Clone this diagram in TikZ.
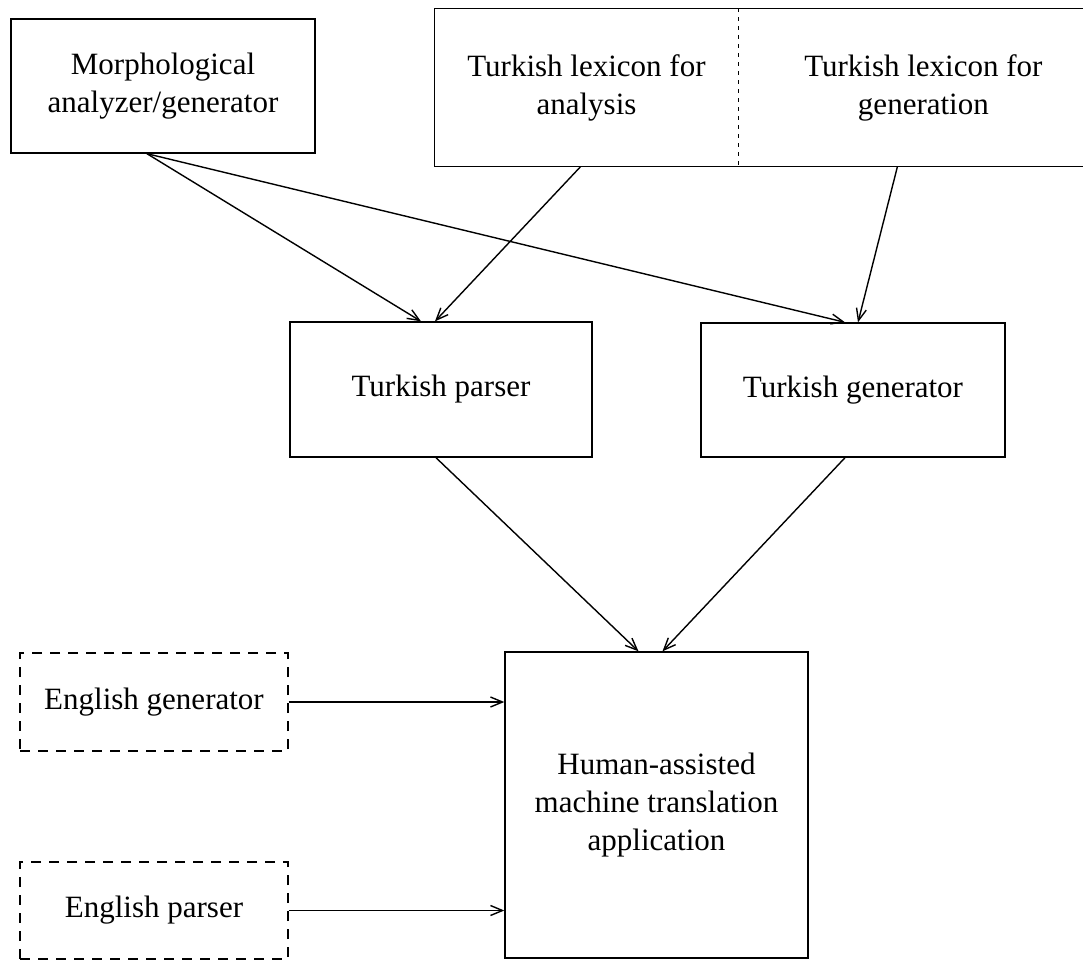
\documentclass[tikz,border=0pt]{standalone}
\usepackage{fontspec}
\setmainfont{Liberation Serif}
\usetikzlibrary{arrows.meta}
\tikzset{
  box/.style = {rectangle, draw=black, line width=0.7pt, align=center,
    inner sep=0pt, font=\fontsize{15.5}{19}\selectfont},% plain module
  dbox/.style = {box, dash pattern=on 5pt off 4pt},% English module, dashed
  cell/.style = {box, draw=none}% lexicon half, outline drawn afterwards
}
\begin{document}
\begin{tikzpicture}[x=0.5pt, y=-0.5pt, ->, >={Straight Barb[length=6pt,width=5pt]},
  line width=0.7pt]
\useasboundingbox (0,0) rectangle (1083,960);
% modules
\node [box, minimum width=152pt, minimum height=67pt] (morph) at (163,86)
  {Morphological\\analyzer/generator};
\node [cell, minimum width=151.5pt, minimum height=78.5pt] (lexA) at (586.5,87.5)
  {Turkish lexicon for\\analysis};
\node [cell, anchor=west, minimum width=184pt, minimum height=78.5pt] (lexG) at (lexA.east)
  {Turkish lexicon for\\generation};
\draw [-] (lexA.north west) rectangle (lexG.south east);
\draw [-, dash pattern=on 2pt off 2.5pt] (lexA.north east) -- (lexA.south east);
\node [box, minimum width=151pt, minimum height=67.5pt] (parser) at (441,389.5)
  {Turkish parser};
\node [box, minimum width=152pt, minimum height=67pt] (tgen) at (853,390)
  {Turkish generator};
\node [box, minimum width=151.5pt, minimum height=153pt] (human) at (656.5,805)
  {Human-assisted\\machine translation\\application};
\node [dbox, minimum width=134pt, minimum height=49pt] (egen) at (154,702)
  {English generator};
\node [dbox, minimum width=134pt, minimum height=48.5pt] (epar) at (154,910.5)
  {English parser};
% connectors
\draw ([xshift=-8pt]morph.south) -- ([xshift=-10pt]parser.north);
\draw ([xshift=-8pt]morph.south) -- ([xshift=-4pt]tgen.north);
\draw ([xshift=-3pt]lexA.south) -- ([xshift=-3pt]parser.north);
\draw ([xshift=-13pt]lexG.south) -- ([xshift=2.5pt]tgen.north);
\draw ([xshift=-2.5pt]parser.south) -- ([xshift=-9pt]human.north);
\draw ([xshift=-4pt]tgen.south) -- ([xshift=3pt]human.north);
\draw (egen.east) -- (egen.east -| human.west);
\draw (epar.east) -- (epar.east -| human.west);
\end{tikzpicture}
\end{document}
